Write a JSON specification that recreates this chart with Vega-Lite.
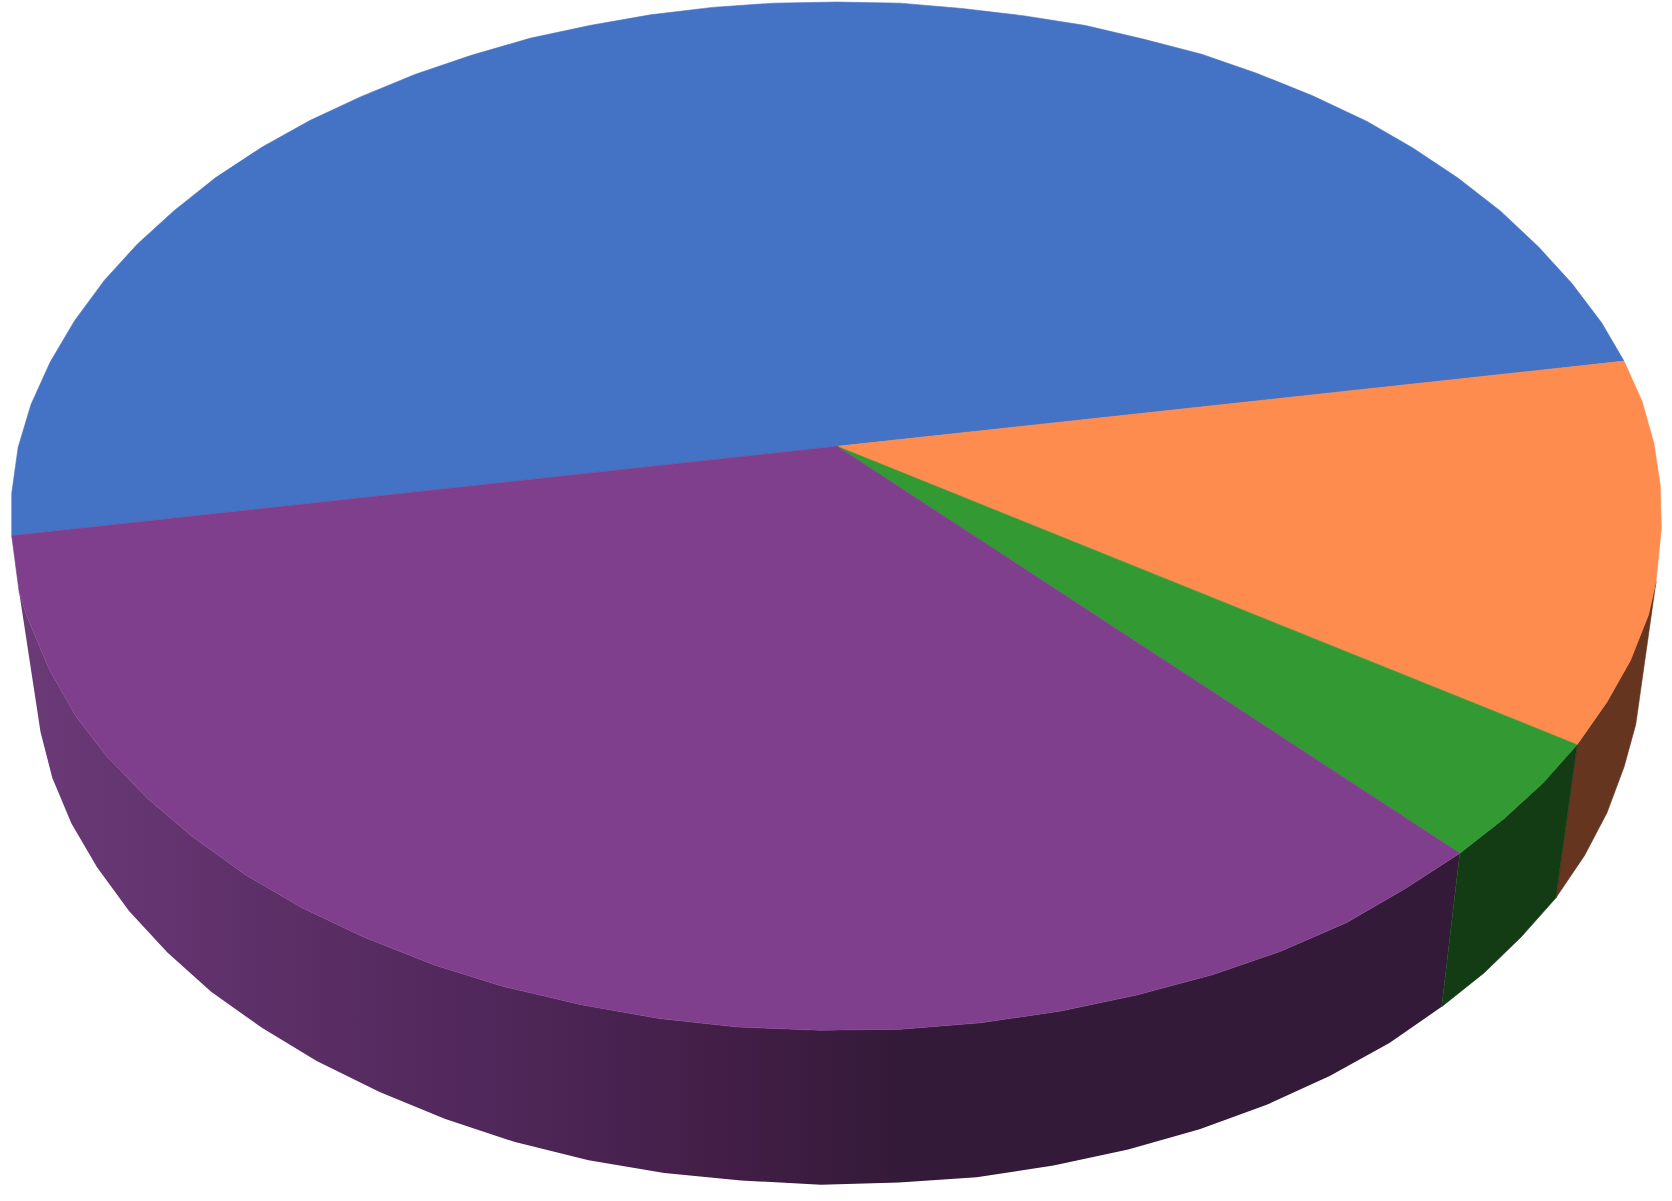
{"$schema":"https://vega.github.io/schema/vega-lite/v6.json","width":1672,"height":1201,"padding":0,"autosize":{"type":"fit","contains":"padding"},"background":"white","view":{"stroke":null},
"layer":[
{"data":{"values":[
{"i":0,"x":18,"y":555},{"i":1,"x":25,"y":577},{"i":2,"x":46,"y":627},{"i":3,"x":71,"y":671},{"i":4,"x":101,"y":710},{"i":5,"x":139,"y":749},{"i":6,"x":180,"y":784},{"i":7,"x":230,"y":820},{"i":8,"x":283,"y":851},{"i":9,"x":342,"y":879},{"i":10,"x":408,"y":905},{"i":11,"x":472,"y":925},{"i":12,"x":545,"y":942},{"i":13,"x":618,"y":955},{"i":14,"x":692,"y":963},{"i":15,"x":769,"y":966},{"i":16,"x":845,"y":965},{"i":17,"x":920,"y":959},{"i":18,"x":995,"y":948},{"i":19,"x":1066,"y":933},{"i":20,"x":1137,"y":914},{"i":21,"x":1201,"y":892},{"i":22,"x":1263,"y":865},{"i":23,"x":1318,"y":833},{"i":24,"x":1369,"y":800},{"i":25,"x":1352,"y":944},{"i":26,"x":1303,"y":978},{"i":27,"x":1247,"y":1009},{"i":28,"x":1188,"y":1036},{"i":29,"x":1125,"y":1059},{"i":30,"x":1058,"y":1078},{"i":31,"x":988,"y":1093},{"i":32,"x":916,"y":1104},{"i":33,"x":843,"y":1109},{"i":34,"x":770,"y":1111},{"i":35,"x":695,"y":1107},{"i":36,"x":623,"y":1100},{"i":37,"x":552,"y":1088},{"i":38,"x":483,"y":1071},{"i":39,"x":417,"y":1049},{"i":40,"x":356,"y":1024},{"i":41,"x":297,"y":995},{"i":42,"x":246,"y":964},{"i":43,"x":198,"y":930},{"i":44,"x":157,"y":893},{"i":45,"x":121,"y":854},{"i":46,"x":91,"y":813},{"i":47,"x":67,"y":772},{"i":48,"x":49,"y":729},{"i":49,"x":38,"y":686}
]},
"mark":{"type":"line","interpolate":"linear-closed","strokeWidth":0,"fill":{"gradient":"linear","x1":0,"x2":1,"y1":0,"y2":0,"stops":[{"offset":0,"color":"#6b3a78"},{"offset":0.16,"color":"#5e3069"},{"offset":0.334,"color":"#4f2759"},{"offset":0.495,"color":"#421e46"},{"offset":0.61,"color":"#341a39"},{"offset":1,"color":"#331a38"}]}},
"encoding":{"x":{"field":"x","type":"quantitative","scale":{"domain":[0,1568]},"axis":null},"y":{"field":"y","type":"quantitative","scale":{"domain":[1126.3,0]},"axis":null},"order":{"field":"i","type":"quantitative"}}},
{"data":{"values":[
{"p":"brown","i":0,"x":1553,"y":545},{"p":"brown","i":1,"x":1546,"y":576},{"p":"brown","i":2,"x":1529,"y":619},{"p":"brown","i":3,"x":1507,"y":658},{"p":"brown","i":4,"x":1479,"y":698},{"p":"brown","i":5,"x":1459,"y":842},{"p":"brown","i":6,"x":1486,"y":802},{"p":"brown","i":7,"x":1507,"y":762},{"p":"brown","i":8,"x":1523,"y":719},{"p":"brown","i":9,"x":1534,"y":679},
{"p":"darkgreen","i":0,"x":1479,"y":698},{"p":"darkgreen","i":1,"x":1447,"y":734},{"p":"darkgreen","i":2,"x":1411,"y":767},{"p":"darkgreen","i":3,"x":1369,"y":800},{"p":"darkgreen","i":4,"x":1352,"y":944},{"p":"darkgreen","i":5,"x":1392,"y":912},{"p":"darkgreen","i":6,"x":1427,"y":878},{"p":"darkgreen","i":7,"x":1459,"y":842},
{"p":"blue","i":0,"x":785,"y":418},{"p":"blue","i":1,"x":11,"y":502},{"p":"blue","i":2,"x":11,"y":462},{"p":"blue","i":3,"x":17,"y":419},{"p":"blue","i":4,"x":29,"y":379},{"p":"blue","i":5,"x":47,"y":339},{"p":"blue","i":6,"x":70,"y":300},{"p":"blue","i":7,"x":98,"y":262},{"p":"blue","i":8,"x":129,"y":228},{"p":"blue","i":9,"x":163,"y":197},{"p":"blue","i":10,"x":202,"y":166},{"p":"blue","i":11,"x":246,"y":137},{"p":"blue","i":12,"x":291,"y":112},{"p":"blue","i":13,"x":338,"y":90},{"p":"blue","i":14,"x":389,"y":69},{"p":"blue","i":15,"x":442,"y":51},{"p":"blue","i":16,"x":497,"y":35},{"p":"blue","i":17,"x":553,"y":23},{"p":"blue","i":18,"x":610,"y":13},{"p":"blue","i":19,"x":668,"y":6},{"p":"blue","i":20,"x":726,"y":2},{"p":"blue","i":21,"x":785,"y":1},{"p":"blue","i":22,"x":844,"y":2},{"p":"blue","i":23,"x":902,"y":7},{"p":"blue","i":24,"x":961,"y":14},{"p":"blue","i":25,"x":1018,"y":23},{"p":"blue","i":26,"x":1073,"y":36},{"p":"blue","i":27,"x":1127,"y":50},{"p":"blue","i":28,"x":1179,"y":68},{"p":"blue","i":29,"x":1231,"y":89},{"p":"blue","i":30,"x":1282,"y":113},{"p":"blue","i":31,"x":1325,"y":138},{"p":"blue","i":32,"x":1367,"y":166},{"p":"blue","i":33,"x":1407,"y":197},{"p":"blue","i":34,"x":1443,"y":231},{"p":"blue","i":35,"x":1474,"y":265},{"p":"blue","i":36,"x":1502,"y":302},{"p":"blue","i":37,"x":1523,"y":338},
{"p":"orange","i":0,"x":785,"y":418},{"p":"orange","i":1,"x":1523,"y":338},{"p":"orange","i":2,"x":1540,"y":376},{"p":"orange","i":3,"x":1551,"y":415},{"p":"orange","i":4,"x":1557,"y":455},{"p":"orange","i":5,"x":1558,"y":495},{"p":"orange","i":6,"x":1553,"y":545},{"p":"orange","i":7,"x":1546,"y":576},{"p":"orange","i":8,"x":1529,"y":619},{"p":"orange","i":9,"x":1507,"y":658},{"p":"orange","i":10,"x":1479,"y":698},
{"p":"green","i":0,"x":785,"y":418},{"p":"green","i":1,"x":1479,"y":698},{"p":"green","i":2,"x":1447,"y":734},{"p":"green","i":3,"x":1411,"y":767},{"p":"green","i":4,"x":1369,"y":800},
{"p":"purple","i":0,"x":785,"y":418},{"p":"purple","i":1,"x":1369,"y":800},{"p":"purple","i":2,"x":1318,"y":833},{"p":"purple","i":3,"x":1263,"y":865},{"p":"purple","i":4,"x":1201,"y":892},{"p":"purple","i":5,"x":1137,"y":914},{"p":"purple","i":6,"x":1066,"y":933},{"p":"purple","i":7,"x":995,"y":948},{"p":"purple","i":8,"x":920,"y":959},{"p":"purple","i":9,"x":845,"y":965},{"p":"purple","i":10,"x":769,"y":966},{"p":"purple","i":11,"x":692,"y":963},{"p":"purple","i":12,"x":618,"y":955},{"p":"purple","i":13,"x":545,"y":942},{"p":"purple","i":14,"x":472,"y":925},{"p":"purple","i":15,"x":408,"y":905},{"p":"purple","i":16,"x":342,"y":879},{"p":"purple","i":17,"x":283,"y":851},{"p":"purple","i":18,"x":230,"y":820},{"p":"purple","i":19,"x":180,"y":784},{"p":"purple","i":20,"x":139,"y":749},{"p":"purple","i":21,"x":101,"y":710},{"p":"purple","i":22,"x":71,"y":671},{"p":"purple","i":23,"x":46,"y":627},{"p":"purple","i":24,"x":25,"y":577},{"p":"purple","i":25,"x":18,"y":555},{"p":"purple","i":26,"x":11,"y":502}
]},
"mark":{"type":"line","interpolate":"linear-closed","strokeWidth":0.6},
"encoding":{"x":{"field":"x","type":"quantitative","scale":{"domain":[0,1568]},"axis":null},"y":{"field":"y","type":"quantitative","scale":{"domain":[1126.3,0]},"axis":null},"order":{"field":"i","type":"quantitative"},"detail":{"field":"p"},"stroke":{"field":"p","type":"nominal","legend":null,"scale":{"domain":["brown","darkgreen","blue","orange","green","purple"],"range":["#663520","#133c15","#4472c4","#ff8c4f","#339933","#803f8c"]}},"fill":{"field":"p","type":"nominal","legend":null,"scale":{"domain":["brown","darkgreen","blue","orange","green","purple"],"range":["#663520","#133c15","#4472c4","#ff8c4f","#339933","#803f8c"]}}}}
]}
